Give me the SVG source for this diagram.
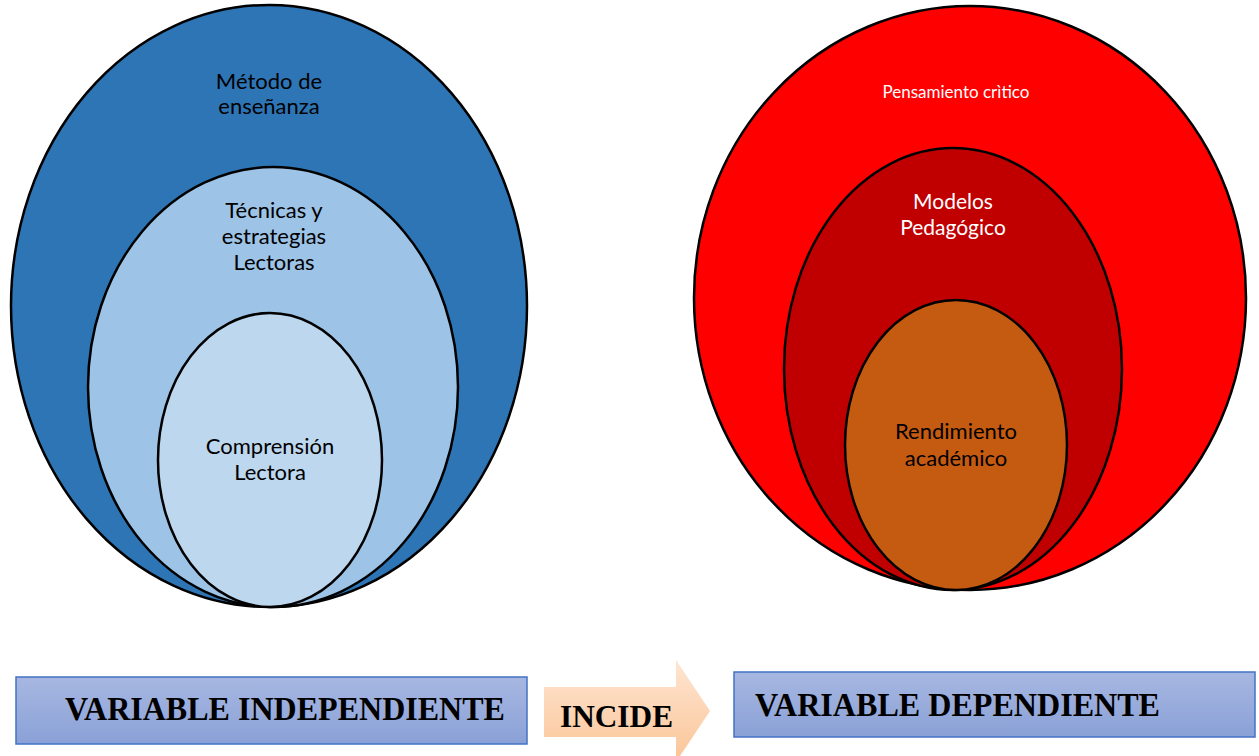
<svg xmlns="http://www.w3.org/2000/svg" width="1259" height="756" viewBox="0 0 1259 756">
<defs>
<linearGradient id="boxGrad" x1="0" y1="0" x2="0" y2="1">
<stop offset="0" stop-color="#a7b7e1"/>
<stop offset="1" stop-color="#8aa1d7"/>
</linearGradient>
<linearGradient id="arrowGrad" x1="0" y1="0" x2="0" y2="1">
<stop offset="0" stop-color="#fee5d2"/>
<stop offset="1" stop-color="#fbc597"/>
</linearGradient>
<style>
.ring{stroke:#000;stroke-width:2.5}
.lbl{font-family:Lato,"Open Sans","Liberation Sans",sans-serif;font-size:22px;text-anchor:middle}
.big{font-family:"Liberation Serif","Times New Roman",serif;font-weight:bold;font-size:34px}
.box{fill:url(#boxGrad);stroke:#4472c4;stroke-width:1.5}
</style>
</defs>
<rect width="1259" height="756" fill="#fff"/>
<g id="node-metodo">
<ellipse class="ring" cx="269" cy="306" rx="258" ry="301" fill="#2e75b6"/>
<text class="lbl" x="269" y="89" fill="#000">Método de</text>
<text class="lbl" x="269" y="114" fill="#000">enseñanza</text>
</g>
<g id="node-tecnicas">
<ellipse class="ring" cx="273" cy="387" rx="185" ry="220" fill="#9dc3e6"/>
<text class="lbl" x="274" y="218" fill="#000">Técnicas y</text>
<text class="lbl" x="274" y="244" fill="#000">estrategias</text>
<text class="lbl" x="274" y="270" fill="#000">Lectoras</text>
</g>
<g id="node-comprension">
<ellipse class="ring" cx="270" cy="460" rx="112" ry="147" fill="#bdd7ee"/>
<text class="lbl" x="270" y="454" fill="#000">Comprensión</text>
<text class="lbl" x="270" y="480" fill="#000">Lectora</text>
</g>
<g id="node-pensamiento">
<ellipse class="ring" cx="970" cy="298" rx="276" ry="292" fill="#ff0000"/>
<text class="lbl" x="956" y="98" fill="#fff" style="font-size:17px">Pensamiento crìtico</text>
</g>
<g id="node-modelos">
<ellipse class="ring" cx="953" cy="369" rx="169" ry="221" fill="#c00000"/>
<text class="lbl" x="953" y="209" fill="#fff" style="font-size:21px">Modelos</text>
<text class="lbl" x="953" y="235" fill="#fff" style="font-size:21px">Pedagógico</text>
</g>
<g id="node-rendimiento">
<ellipse class="ring" cx="956" cy="445" rx="111" ry="145" fill="#c55a11"/>
<text class="lbl" x="956" y="439" fill="#000">Rendimiento</text>
<text class="lbl" x="956" y="466" fill="#000">académico</text>
</g>
<g id="node-independiente">
<rect class="box" x="16" y="677" width="511" height="67"/>
<text class="big" x="65" y="720" textLength="440" lengthAdjust="spacingAndGlyphs">VARIABLE INDEPENDIENTE</text>
</g>
<g id="connectors">
<path id="incide-arrow" d="M544 687 H676 V660 L710 711 L676 762 V737 H544 Z" fill="url(#arrowGrad)"/>
<text class="big" x="560" y="727" style="font-size:32px" textLength="113" lengthAdjust="spacingAndGlyphs">INCIDE</text>
</g>
<g id="node-dependiente">
<rect class="box" x="734" y="672" width="521" height="65"/>
<text class="big" x="755" y="716" textLength="405" lengthAdjust="spacingAndGlyphs">VARIABLE DEPENDIENTE</text>
</g>
</svg>
